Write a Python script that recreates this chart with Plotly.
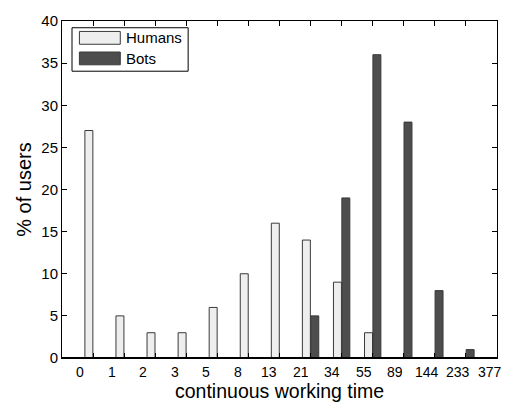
import plotly.graph_objects as go

# ---- data ----
categories = ['0', '1', '2', '3', '5', '8', '13', '21', '34', '55', '89', '144', '233', '377']
humans = [27, 5, 3, 3, 6, 10, 16, 14, 9, 3, 0, 0, 0, 0]
bots = [0, 0, 0, 0, 0, 0, 0, 5, 19, 36, 28, 8, 1, 0]
y_ticks = [0, 5, 10, 15, 20, 25, 30, 35, 40]

positions = list(range(1, len(categories) + 1))
label_pos = [0.58 + 1.015 * k for k in range(len(categories))]

FONT = "Liberation Sans, Arial, Helvetica, sans-serif"
HUM_FILL = "#eeeeee"
BOT_FILL = "#4d4d4d"
EDGE = "#3a3a3a"

fig = go.Figure()
fig.add_trace(go.Bar(x=positions, y=humans, name="Humans",
                     marker=dict(color=HUM_FILL, line=dict(color=EDGE, width=1))))
fig.add_trace(go.Bar(x=positions, y=bots, name="Bots",
                     marker=dict(color=BOT_FILL, line=dict(color=EDGE, width=1))))

annotations = []
for p, lab in zip(label_pos, categories):
    annotations.append(dict(x=p, y=-0.0425, xref="x", yref="paper", text=lab,
                            showarrow=False, xanchor="center", yanchor="middle",
                            height=14, borderpad=0,
                            font=dict(family=FONT, size=14, color="black")))
annotations.append(dict(x=0.5, y=-0.0965, xref="paper", yref="paper",
                        text="continuous working time", showarrow=False,
                        xanchor="center", yanchor="middle", borderpad=0,
                        font=dict(family=FONT, size=19.5, color="black")))

# manual legend (MATLAB style)
shapes = [
    dict(type="rect", xref="paper", yref="paper", x0=0.023, x1=0.290, y0=0.851, y1=0.980,
         line=dict(color="black", width=1), fillcolor="white", layer="above"),
    dict(type="rect", xref="paper", yref="paper", x0=0.040, x1=0.134, y0=0.931, y1=0.969,
         line=dict(color=EDGE, width=1), fillcolor=HUM_FILL, layer="above"),
    dict(type="rect", xref="paper", yref="paper", x0=0.040, x1=0.134, y0=0.870, y1=0.908,
         line=dict(color=EDGE, width=1), fillcolor=BOT_FILL, layer="above"),
    dict(type="line", xref="paper", yref="y", x0=0, x1=1, y0=0, y1=0,
         line=dict(color="black", width=2), layer="above"),
]
annotations.append(dict(x=0.143, y=0.950, xref="paper", yref="paper", text="Humans",
                        showarrow=False, xanchor="left", yanchor="middle",
                        font=dict(family=FONT, size=15, color="black")))
annotations.append(dict(x=0.143, y=0.889, xref="paper", yref="paper", text="Bots",
                        showarrow=False, xanchor="left", yanchor="middle",
                        font=dict(family=FONT, size=15, color="black")))

fig.update_layout(
    width=511, height=404,
    margin=dict(l=62, r=14, t=16, b=46),
    paper_bgcolor="white", plot_bgcolor="white",
    barmode="group", bargap=0.46, bargroupgap=0.05,
    showlegend=False,
    font=dict(family=FONT, size=14, color="black"),
    annotations=annotations,
    shapes=shapes,
)
fig.update_xaxes(range=[0, 14], tickvals=positions, showticklabels=False,
                 ticks="inside", ticklen=5, tickcolor="black",
                 showline=True, linecolor="black", linewidth=1, mirror="ticks",
                 showgrid=False, zeroline=False)
fig.update_yaxes(range=[0, 40], tickvals=y_ticks, ticks="inside", ticklen=5,
                 tickcolor="black", showline=True, linecolor="black", linewidth=1,
                 mirror="ticks", showgrid=False, zeroline=False,
                 tickfont=dict(family=FONT, size=15, color="black"),
                 title=dict(text="% of users", standoff=4,
                            font=dict(family=FONT, size=20, color="black")))

fig.write_html("out.html")
